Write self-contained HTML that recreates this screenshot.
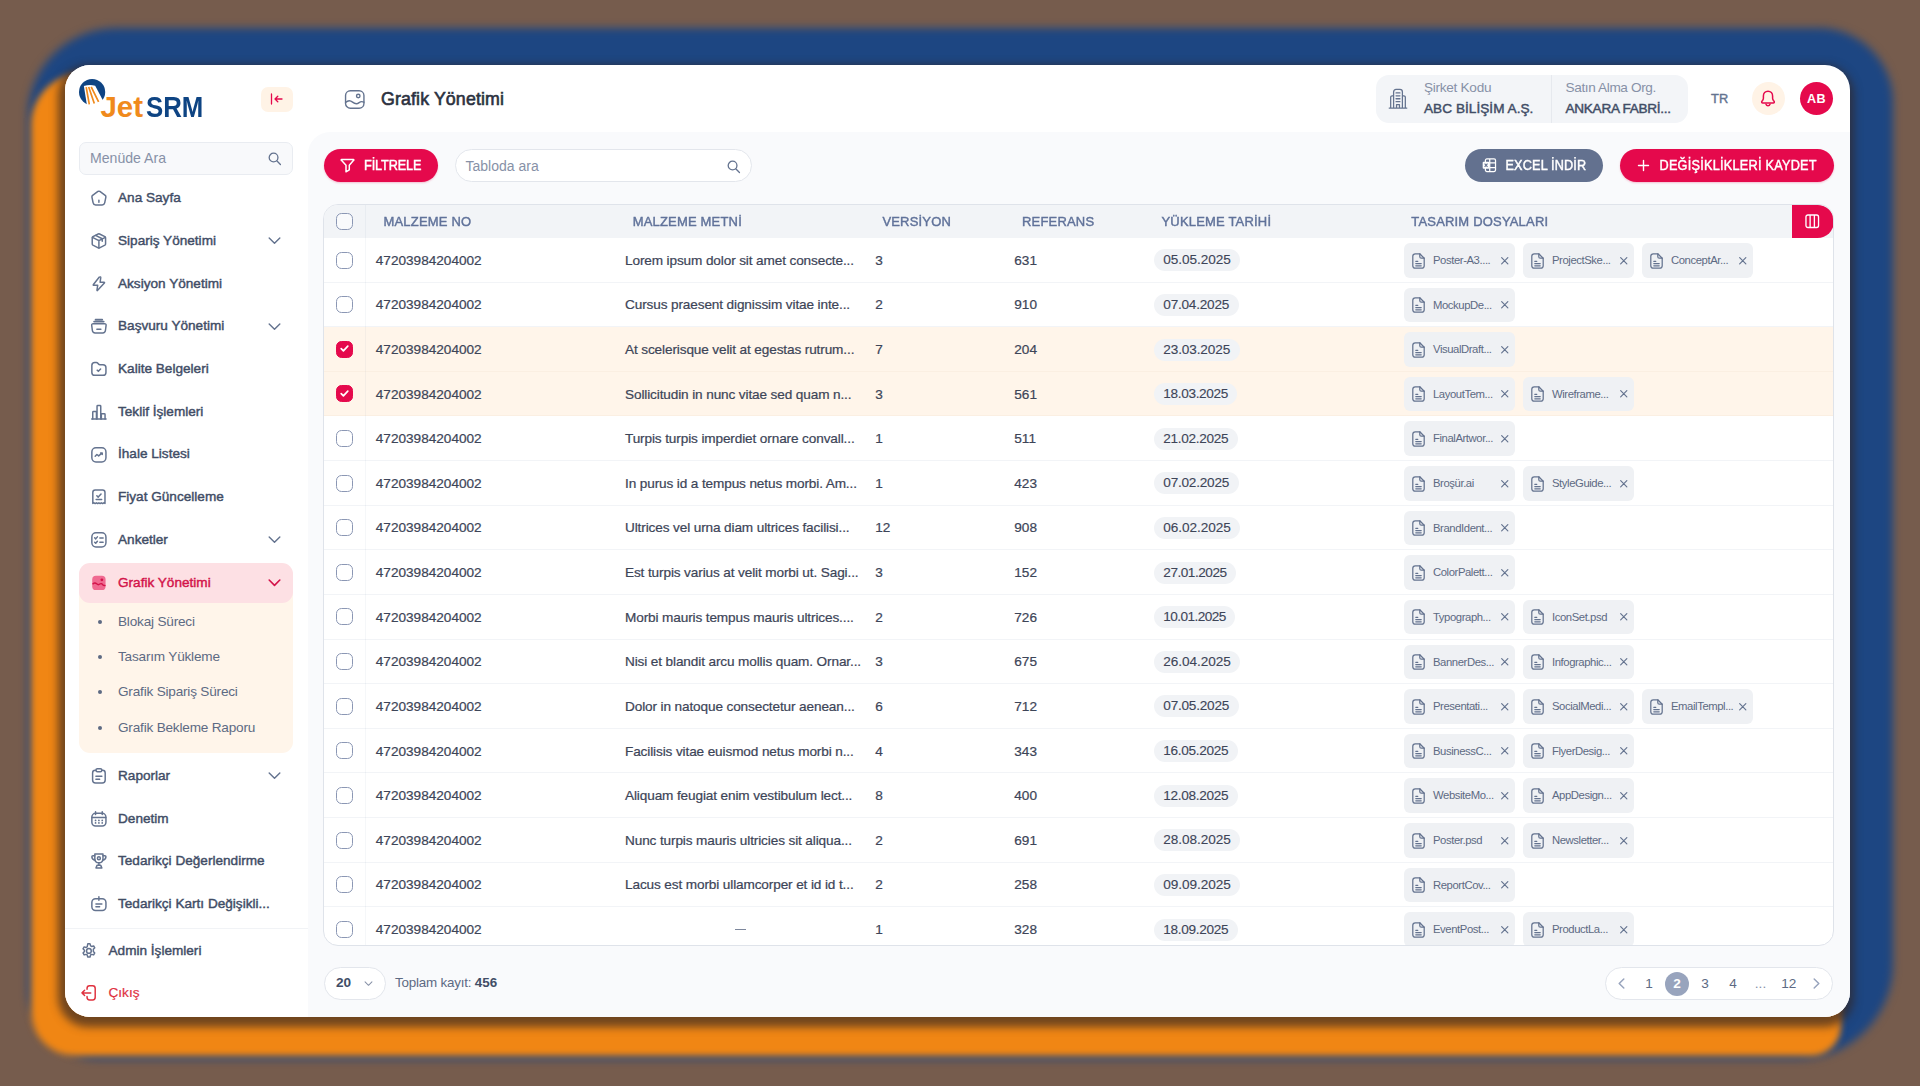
<!DOCTYPE html>
<html lang="tr"><head><meta charset="utf-8"><title>JetSRM - Grafik Yönetimi</title>
<style>
*{box-sizing:border-box;margin:0;padding:0}
html,body{width:1920px;height:1086px;overflow:hidden}
body{background:#765c4d;font-family:"Liberation Sans",sans-serif;position:relative;color:#3f4b63}
.abs{position:absolute}
#glowb{position:absolute;left:27.5px;top:27.5px;width:1865.5px;height:1031px;border-radius:88px 74px 95px 70px;background:#1d4682;filter:blur(4.5px)}
#glowo{position:absolute;left:31px;top:73px;width:1809.5px;height:982.5px;border-radius:52px 40px 30px 44px;background:#f08614;filter:blur(3px)}
#card{position:absolute;left:65px;top:65px;width:1785px;height:952px;border-radius:25px;background:#fff;overflow:hidden;}
#cardsh{position:absolute;left:65px;top:65px;width:1785px;height:952px;border-radius:25px;box-shadow:-1.5px 5px 8px 5px rgba(52,38,36,.68)}
#main{position:absolute;left:243px;top:67px;width:1542px;height:885px;background:#f9fafc;border-top-left-radius:22px}
svg{display:block;overflow:visible}
.mi{position:absolute;left:26px;height:16px;width:200px}
.mi svg{position:absolute;left:-1.3px;top:-.9px;width:17.8px;height:17.8px}
.mi span{position:absolute;left:27px;top:0;line-height:16px;font-size:13.6px;font-weight:400;color:#414d66;white-space:nowrap;letter-spacing:0;-webkit-text-stroke:.42px #414d66}
.mi .chev{left:175.1px;top:-.7px;width:17px;height:17px}
.sub{position:absolute;left:53px;font-size:13.6px;line-height:16px;color:#5d6a83;white-space:nowrap;letter-spacing:-.2px}
.sub i{position:absolute;left:-20.5px;top:6px;width:4px;height:4px;border-radius:50%;background:#5d6a83}
.th{position:absolute;top:9px;font-size:13px;font-weight:400;letter-spacing:.18px;color:#60729a;-webkit-text-stroke:.42px #60729a;line-height:16px;white-space:nowrap;transform:scaleY(1.05);transform-origin:0 62%}
.row{position:absolute;left:0;width:1509px;height:44.62px;border-bottom:1px solid #f2f4f7}
.row.sel{background:#fff5ea;border-bottom-color:#fbefe2}
.cb{position:absolute;left:12.4px;width:17px;height:17px;border:1.6px solid #8b97b4;border-radius:5.5px;background:#fff}
.cb.on{background:#e5094c;border-color:#e5094c}
.c{position:absolute;font-size:13.6px;line-height:16px;color:#3d4558;white-space:nowrap;top:14.7px;-webkit-text-stroke:.22px #3d4558}
.c.t{letter-spacing:-.12px}
.date{position:absolute;left:830px;top:11.3px;height:22px;border-radius:11px;background:#f1f3f6;padding:3px 0 0 9.3px;overflow:hidden;font-size:13.6px;line-height:16px;color:#3d4558;white-space:nowrap;-webkit-text-stroke:.12px #3d4558}
.chip{position:absolute;top:5px;width:111px;height:34.5px;border-radius:6px;background:#eff1f4}
.chip svg.f{position:absolute;left:8px;top:9.5px;width:13px;height:16px}
.chip span{position:absolute;left:29px;top:10px;font-size:11.3px;line-height:14px;color:#5d6a83;white-space:nowrap;letter-spacing:-.42px}
.chip svg.x{position:absolute;left:96.5px;top:13.5px;width:7.5px;height:7.5px}
.pg{position:absolute;top:7px;font-size:13.6px;line-height:18px;color:#5d6a83;text-align:center;width:24px}
</style></head>
<body>
<div id="glowb"></div>
<div id="glowo"></div>
<div id="cardsh"></div>
<div id="card">
<div id="side" class="abs" style="left:0;top:0;width:243px;height:952px;background:#fff">

<svg class="abs" style="left:12px;top:12px;width:30px;height:30px" viewBox="0 0 30 30" stroke="none">
 <circle cx="15.100" cy="15.100" r="13.100" fill="#0e4483"/>
 <path d="M6.900 9Q12.500 7.300 18.200 8.700L26.500 24.500 22 30H10.200Z" fill="#fff"/>
 <path d="M9.200 10.200 12.300 27.300M11.700 10 17.300 26.600M14.200 9.800 21.600 24.800" stroke="#f08a1c" stroke-width="1.700" fill="none"/>
</svg>
<div class="abs" style="left:35.400px;top:25px;font-size:29.500px;line-height:34px;font-weight:700;color:#f08a1c;white-space:nowrap">Jet</div>
<div class="abs" style="left:81.300px;top:25px;font-size:29.500px;line-height:34px;font-weight:700;color:#0e4483;white-space:nowrap;transform:scaleX(.875);transform-origin:0 0">SRM</div>
<div class="abs" style="left:196px;top:22px;width:31.500px;height:24.500px;border-radius:7px;background:#fff3e6"></div>
<svg class="abs" style="left:205px;top:28px;width:13px;height:12px" viewBox="0 0 13 12" fill="none" stroke="#e5094c" stroke-width="1.300" stroke-linecap="round" stroke-linejoin="round"><path d="M1.500 1v10M12 6H5M7.800 3.200 5 6l2.800 2.800"/></svg>

<div class="abs" style="left:14px;top:77px;width:214px;height:32.500px;border:1px solid #e9ecf1;border-radius:7px;background:#f8f9fb"></div>
<div class="abs" style="left:25px;top:85px;font-size:14.100px;line-height:16px;color:#8791a7;white-space:nowrap">Menüde Ara</div>
<svg class="" style="position:absolute;left:201.500px;top:85.500px;width:15px;height:15px" viewBox="0 0 24 24" fill="none" stroke="#64738f" stroke-width="2.100" stroke-linecap="round" stroke-linejoin="round"><circle cx="10.500" cy="10.500" r="7"/><path d="M16 16l5.500 5.500"/></svg>
<div class="mi" style="top:125.0px"><svg class="" style="" viewBox="0 0 24 24" fill="none" stroke="#64738f" stroke-width="2" stroke-linecap="round" stroke-linejoin="round"><path d="M13.300 3.300Q12 2.500 10.700 3.300L3.500 8.500Q2.300 9.400 2.600 10.900L4.200 18.700Q4.800 21.500 7.600 21.500H16.400Q19.200 21.500 19.800 18.700L21.400 10.900Q21.700 9.400 20.500 8.500Z"/><path d="M12 15v3"/></svg><span>Ana Sayfa</span></div>
<div class="mi" style="top:168.0px"><svg class="" style="" viewBox="0 0 24 24" fill="none" stroke="#64738f" stroke-width="2" stroke-linecap="round" stroke-linejoin="round"><path d="M12.900 2.700Q12 2.300 11.100 2.700L3.900 6.300Q3 6.800 3 7.800V16.200Q3 17.200 3.900 17.700L11.100 21.300Q12 21.700 12.900 21.300L20.100 17.700Q21 17.200 21 16.200V7.800Q21 6.800 20.100 6.300Z"/><path d="M3.300 7.200 12 11.600 20.700 7.200M12 11.600V21.500M7.500 4.600 16.500 9.100V12.500"/></svg><span>Sipariş Yönetimi</span><svg class="chev" style="" viewBox="0 0 24 24" fill="none" stroke="#64738f" stroke-width="2" stroke-linecap="round" stroke-linejoin="round"><path d="M4.500 8.500 12 16l7.500-7.500"/></svg></div>
<div class="mi" style="top:210.5px"><svg class="" style="" viewBox="0 0 24 24" fill="none" stroke="#64738f" stroke-width="2" stroke-linecap="round" stroke-linejoin="round"><path d="M12.600 2.800 4.600 12.800Q3.900 13.800 5.100 13.800H10.400L9.400 20.300Q9.300 21.700 10.300 20.700L19.400 10.900Q20.100 9.900 18.900 9.900H13.600L14.500 3.600Q14.600 2.100 12.600 2.800Z"/></svg><span>Aksiyon Yönetimi</span></div>
<div class="mi" style="top:253.3px"><svg class="" style="" viewBox="0 0 24 24" fill="none" stroke="#64738f" stroke-width="2" stroke-linecap="round" stroke-linejoin="round"><path d="M4.400 9H19.600Q22 9 21.700 11.400L20.800 18.200Q20.400 21.500 17.100 21.500H6.900Q3.600 21.500 3.200 18.200L2.300 11.400Q2 9 4.400 9Z"/><path d="M5.500 6.100h13M7.500 3.400h9" stroke-width="2.400"/><path d="M9.300 16.600h5.400"/></svg><span>Başvuru Yönetimi</span><svg class="chev" style="" viewBox="0 0 24 24" fill="none" stroke="#64738f" stroke-width="2" stroke-linecap="round" stroke-linejoin="round"><path d="M4.500 8.500 12 16l7.500-7.500"/></svg></div>
<div class="mi" style="top:296.0px"><svg class="" style="" viewBox="0 0 24 24" fill="none" stroke="#64738f" stroke-width="2" stroke-linecap="round" stroke-linejoin="round"><path d="M2.500 7.300Q2.500 3.300 6.500 3.300H8.600Q9.800 3.300 10.600 4.300L11.400 5.300Q12.200 6.300 13.400 6.300H17.500Q21.500 6.300 21.500 10.300V16.700Q21.500 20.700 17.500 20.700H6.500Q2.500 20.700 2.500 16.700Z"/><path d="M9.700 13.700l1.600 1.600 3-3.200"/></svg><span>Kalite Belgeleri</span></div>
<div class="mi" style="top:338.7px"><svg class="" style="" viewBox="0 0 24 24" fill="none" stroke="#64738f" stroke-width="2" stroke-linecap="round" stroke-linejoin="round"><path d="M2.300 21.500h19.400"/><path d="M3.700 21.500V12.500Q3.700 11.500 4.700 11.500H7.700Q8.700 11.500 8.700 12.500V21.500M9.500 21.500V4.500Q9.500 3.500 10.500 3.500H13.500Q14.500 3.500 14.500 4.500V21.500M15.300 21.500V15.500Q15.300 14.500 16.300 14.500H19.300Q20.300 14.500 20.300 15.500V21.500"/></svg><span>Teklif İşlemleri</span></div>
<div class="mi" style="top:381.4px"><svg class="" style="" viewBox="0 0 24 24" fill="none" stroke="#64738f" stroke-width="2" stroke-linecap="round" stroke-linejoin="round"><rect x="2.500" y="2.500" width="19" height="19" rx="5.500"/><path d="M7 13.800l2.300-2.300 2.400 1.800 4.300-3.600M14.300 9.400h2.200v2.200"/></svg><span>İhale Listesi</span></div>
<div class="mi" style="top:424.2px"><svg class="" style="" viewBox="0 0 24 24" fill="none" stroke="#64738f" stroke-width="2" stroke-linecap="round" stroke-linejoin="round"><path d="M3.800 6Q3.800 2.800 7 2.800H17Q20.200 2.800 20.200 6V20.800L18.600 20 17 21 15.300 20 13.700 21 12 20 10.300 21 8.700 20 7 21 5.400 20 3.800 20.800Z"/><path d="M9.200 10.400l1.900 1.900 3.800-4.200M8.300 15.600h7.400"/></svg><span>Fiyat Güncelleme</span></div>
<div class="mi" style="top:467.0px"><svg class="" style="" viewBox="0 0 24 24" fill="none" stroke="#64738f" stroke-width="2" stroke-linecap="round" stroke-linejoin="round"><rect x="2.500" y="2.500" width="19" height="19" rx="5.500"/><path d="M6.300 9.200l1.400 1.400 2.300-2.700M6.300 15.200l1.400 1.400 2.300-2.700M13.300 9.300h4.400M13.300 15.300h4.400"/></svg><span>Anketler</span><svg class="chev" style="" viewBox="0 0 24 24" fill="none" stroke="#64738f" stroke-width="2" stroke-linecap="round" stroke-linejoin="round"><path d="M4.500 8.500 12 16l7.500-7.500"/></svg></div>
<div class="abs" style="left:14px;top:510px;width:214px;height:178px;border-radius:11px;background:#fff5ea"></div>
<div class="abs" style="left:14px;top:498px;width:214px;height:39.500px;border-radius:11px;background:#fde0e4"></div>
<div class="mi" style="top:510px">
<svg viewBox="0 0 24 24" stroke="none"><rect x="3" y="2.300" width="18" height="19.400" rx="5" fill="#e5094c" opacity=".55"/><path d="M4 13.300c1.700-1.600 3.400-1.600 5 0s3 1.400 4.300.3 2.600-.7 3.600.5 2 1.800 3.300 1.400" fill="none" stroke="#d3144a" stroke-width="1.900" stroke-linecap="round"/><circle cx="16" cy="7.800" r="1.900" fill="#d3144a"/></svg>
<span style="color:#d3144a;-webkit-text-stroke-color:#d3144a">Grafik Yönetimi</span><svg class="chev" style="" viewBox="0 0 24 24" fill="none" stroke="#d3144a" stroke-width="2.300" stroke-linecap="round" stroke-linejoin="round"><path d="M4.500 8.500 12 16l7.500-7.500"/></svg></div>
<div class="sub" style="top:548.7px"><i></i>Blokaj Süreci</div>
<div class="sub" style="top:584.0px"><i></i>Tasarım Yükleme</div>
<div class="sub" style="top:619.4px"><i></i>Grafik Sipariş Süreci</div>
<div class="sub" style="top:654.7px"><i></i>Grafik Bekleme Raporu</div>
<div class="mi" style="top:703.0px"><svg class="" style="" viewBox="0 0 24 24" fill="none" stroke="#64738f" stroke-width="2" stroke-linecap="round" stroke-linejoin="round"><path d="M8 4.500H7Q3.500 4.500 3.500 8V17.500Q3.500 21.500 7.500 21.500H16.500Q20.500 21.500 20.500 17.500V8Q20.500 4.500 17 4.500H16"/><rect x="8" y="2.500" width="8" height="4" rx="2"/><path d="M8 12.500h8M8 16.500h5"/></svg><span>Raporlar</span><svg class="chev" style="" viewBox="0 0 24 24" fill="none" stroke="#64738f" stroke-width="2" stroke-linecap="round" stroke-linejoin="round"><path d="M4.500 8.500 12 16l7.500-7.500"/></svg></div>
<div class="mi" style="top:745.6px"><svg class="" style="" viewBox="0 0 24 24" fill="none" stroke="#64738f" stroke-width="2" stroke-linecap="round" stroke-linejoin="round"><rect x="2.500" y="4.500" width="19" height="17" rx="5"/><path d="M7.500 2.500v3.500M16.500 2.500v3.500M2.800 10h18.400"/><path d="M7.500 14h.01M12 14h.01M16.500 14h.01M7.500 17.500h.01M12 17.500h.01M16.500 17.500h.01" stroke-width="2.400"/></svg><span>Denetim</span></div>
<div class="mi" style="top:788.3px"><svg class="" style="" viewBox="0 0 24 24" fill="none" stroke="#64738f" stroke-width="2" stroke-linecap="round" stroke-linejoin="round"><path d="M6.500 2.800H17.500V9Q17.500 14.500 12 14.500Q6.500 14.500 6.500 9Z"/><path d="M6.500 5H4Q2.500 5 2.500 6.500Q2.500 10.500 7 11M17.500 5H20Q21.500 5 21.500 6.500Q21.500 10.500 17 11M12 14.500V18M8 21.500H16L14.500 18H9.500Z"/><circle cx="12" cy="8.300" r="2"/></svg><span>Tedarikçi Değerlendirme</span></div>
<div class="mi" style="top:831.0px"><svg class="" style="" viewBox="0 0 24 24" fill="none" stroke="#64738f" stroke-width="2" stroke-linecap="round" stroke-linejoin="round"><rect x="2.500" y="5" width="19" height="16" rx="5"/><path d="M12 2.500V7M8 12h8M8 16h5"/></svg><span>Tedarikçi Kartı Değişikli...</span></div>
<div class="abs" style="left:0;top:862.500px;width:243px;height:1px;background:#f1f3f6"></div>
<div class="mi" style="left:16.500px;top:877.5px"><svg class="" style="" viewBox="0 0 24 24" fill="none" stroke="#64738f" stroke-width="2" stroke-linecap="round" stroke-linejoin="round"><circle cx="12" cy="12" r="3.200"/><path d="M10.500 2.500h3l.8 2.700 1.400.8 2.700-.7 1.500 2.600-1.900 2V12.800l1.900 2-1.500 2.600-2.700-.7-1.400.8-.8 2.700h-3l-.8-2.700-1.400-.8-2.700.7-1.500-2.600 1.900-2V11.200l-1.900-2 1.500-2.600 2.700.7 1.400-.8z"/></svg><span>Admin İşlemleri</span></div>
<div class="mi" style="left:16.500px;top:920.0px"><svg class="" style="" viewBox="0 0 24 24" fill="none" stroke="#e0323f" stroke-width="2" stroke-linecap="round" stroke-linejoin="round"><path d="M9.500 7V6Q9.500 2.500 13 2.500H17Q20.500 2.500 20.500 6V18Q20.500 21.500 17 21.500H13Q9.500 21.500 9.500 18V17"/><path d="M14.500 12H2.800M6.200 8.500 2.700 12 6.200 15.500"/></svg><span style="color:#e0323f;-webkit-text-stroke:.2px #e0323f">Çıkış</span></div>
</div>
<svg class="abs" style="left:278.500px;top:23.500px;width:21.500px;height:21px" viewBox="0 0 24 24" fill="none" stroke="#64738f" stroke-width="1.600" stroke-linecap="round" stroke-linejoin="round"><rect x="1.500" y="2" width="21" height="20" rx="5.500"/><circle cx="16" cy="8" r="2"/><path d="M1.500 15.500c2.700-2.600 5.400-2.600 8-.5s5.300 2.300 7.500.6 3.500-1.500 5.500-.5"/></svg>
<div class="abs" style="left:316px;top:22px;font-size:17.800px;line-height:24px;font-weight:400;color:#2b3140;white-space:nowrap;letter-spacing:.12px;-webkit-text-stroke:.6px #2b3140">Grafik Yönetimi</div>
<div class="abs" style="left:1311px;top:10px;width:312px;height:47.500px;border-radius:13px;background:#f3f5f8"></div>
<div class="abs" style="left:1486px;top:10px;width:1px;height:47.500px;background:#e6e9ee"></div>
<svg class="abs" style="left:1323px;top:22.500px;width:20px;height:21.500px" viewBox="0 0 20 22" fill="none" stroke="#64738f" stroke-width="1.300" stroke-linecap="round" stroke-linejoin="round"><path d="M1 20.500h18M5.500 20.500V4c0-1.400 1-2.500 2.500-2.500h4c1.500 0 2.500 1.100 2.500 2.500v16.500M2.500 20.500V9.500c0-.8.700-1.500 1.500-1.500h1.500M17.500 20.500V9.500c0-.8-.7-1.500-1.500-1.500h-1.500M8 5h4M8 8h4M8 11h4M8 14h4M8.500 20.500v-3.500h3v3.500"/></svg>
<div class="abs" style="left:1359px;top:13.800px;font-size:13.600px;line-height:17px;color:#8791a7;white-space:nowrap;letter-spacing:-.28px">Şirket Kodu</div>
<div class="abs" style="left:1359px;top:35px;font-size:13.600px;line-height:17px;font-weight:400;color:#414d66;white-space:nowrap;letter-spacing:.04px;-webkit-text-stroke:.45px #414d66">ABC BİLİŞİM A.Ş.</div>
<div class="abs" style="left:1500.500px;top:13.800px;font-size:13.600px;line-height:17px;color:#8791a7;white-space:nowrap;letter-spacing:-.37px">Satın Alma Org.</div>
<div class="abs" style="left:1500.500px;top:35px;font-size:13.600px;line-height:17px;font-weight:400;color:#414d66;white-space:nowrap;letter-spacing:-.28px;-webkit-text-stroke:.45px #414d66">ANKARA FABRİ...</div>
<div class="abs" style="left:1646px;top:25.500px;font-size:12.800px;line-height:16px;font-weight:400;color:#64738f;-webkit-text-stroke:.4px #64738f;white-space:nowrap;letter-spacing:.3px">TR</div>
<div class="abs" style="left:1686.500px;top:17px;width:33px;height:33px;border-radius:50%;background:#fff3e6"></div>
<svg class="abs" style="left:1695px;top:25px;width:16px;height:17px" viewBox="0 0 16 17" fill="none" stroke="#e5094c" stroke-width="1.500" stroke-linecap="round" stroke-linejoin="round"><path d="M8 1.200c-2.800 0-4.600 2.100-4.600 4.800v2.300c0 .8-.3 1.500-.8 2.100l-.7.800c-.6.700-.1 1.800.8 1.800h10.600c.9 0 1.400-1.100.8-1.800l-.7-.8c-.5-.6-.8-1.300-.8-2.100V6c0-2.700-1.800-4.800-4.600-4.800z"/><path d="M6 14.300c.3.900 1.100 1.500 2 1.500s1.700-.6 2-1.500"/></svg>
<div class="abs" style="left:1735px;top:17px;width:33px;height:33px;border-radius:50%;background:#e5094c;color:#fff;font-size:12.600px;font-weight:700;line-height:34.500px;text-align:center;letter-spacing:.5px">AB</div>
<div id="main">
<div class="abs" style="left:15.500px;top:17px;width:114px;height:33px;border-radius:17px;background:#e5094c;box-shadow:0 1px 2px rgba(229,9,76,.25)"></div>
<svg class="abs" style="left:32px;top:26px;width:15px;height:15px" viewBox="0 0 15 15" fill="none" stroke="#fff" stroke-width="1.500" stroke-linecap="round" stroke-linejoin="round"><path d="M1.500 1.500h12c.3 0 .5.400.3.600L9.300 7.200v4.600l-3.300 2V7.200L1.200 2.100c-.2-.2 0-.6.300-.6z"/></svg>
<div class="abs" style="left:56px;top:25.500px;font-size:12.700px;line-height:16px;font-weight:400;color:#fff;-webkit-text-stroke:.42px #fff;letter-spacing:-.12px;white-space:nowrap;transform:scaleY(1.09);transform-origin:0 62%">FİLTRELE</div>
<div class="abs" style="left:147px;top:17px;width:297px;height:33px;border-radius:17px;background:#fff;border:1px solid #e3e6ec"></div>
<div class="abs" style="left:157.500px;top:25.500px;font-size:14px;line-height:16px;color:#8791a7;white-space:nowrap;letter-spacing:0">Tabloda ara</div>
<svg class="" style="position:absolute;left:417.500px;top:26.500px;width:15px;height:15px" viewBox="0 0 24 24" fill="none" stroke="#64738f" stroke-width="2.100" stroke-linecap="round" stroke-linejoin="round"><circle cx="10.500" cy="10.500" r="7"/><path d="M16 16l5.500 5.500"/></svg>
<div class="abs" style="left:1157px;top:17px;width:138px;height:33px;border-radius:17px;background:#63718f"></div>
<svg class="abs" style="left:1173.500px;top:26px;width:14.500px;height:14.500px" viewBox="0 0 15 15" fill="none" stroke="#fff" stroke-width="1.300" stroke-linejoin="round"><rect x="3.500" y="1" width="10.500" height="13" rx="1.500"/><path d="M8 1v13M8 5h6M8 10h6"/><rect x=".7" y="4" width="7" height="7" rx="1" fill="#fff" stroke="none"/><path d="M2.700 5.800l3 3.400M5.700 5.800l-3 3.400" stroke="#63718f" stroke-width="1.100"/></svg>
<div class="abs" style="left:1197.500px;top:25.500px;font-size:12.700px;line-height:16px;font-weight:400;color:#fff;-webkit-text-stroke:.42px #fff;letter-spacing:.15px;white-space:nowrap;transform:scaleY(1.09);transform-origin:0 62%">EXCEL İNDİR</div>
<div class="abs" style="left:1311.500px;top:17px;width:214px;height:33px;border-radius:17px;background:#e5094c;box-shadow:0 1px 2px rgba(229,9,76,.25)"></div>
<svg class="abs" style="left:1329.500px;top:28px;width:11px;height:11px" viewBox="0 0 11 11" fill="none" stroke="#fff" stroke-width="1.400" stroke-linecap="round"><path d="M5.500 .5v10M.5 5.500h10"/></svg>
<div class="abs" style="left:1351.500px;top:25.500px;font-size:12.700px;line-height:16px;font-weight:400;color:#fff;-webkit-text-stroke:.42px #fff;letter-spacing:.25px;white-space:nowrap;transform:scaleY(1.09);transform-origin:0 62%">DEĞİŞİKLİKLERİ KAYDET</div>
<div id="tbl" class="abs" style="left:15px;top:71.500px;width:1511px;height:742px;border:1px solid #dfe3ea;border-radius:15px;background:#fff;overflow:hidden">
<div class="abs" style="left:0;top:0;width:1509px;height:33.500px;background:#f2f4f7"></div>
<div class="cb" style="top:8.500px;background:#f9fafc"></div>
<div class="th" style="left:59.5px">MALZEME NO</div>
<div class="th" style="left:308.7px">MALZEME METNİ</div>
<div class="th" style="left:558.4px">VERSİYON</div>
<div class="th" style="left:698px">REFERANS</div>
<div class="th" style="left:837.5px">YÜKLEME TARİHİ</div>
<div class="th" style="left:1087.3px">TASARIM DOSYALARI</div>
<div class="row" style="top:33.50px"><div class="cb" style="top:13.500px"></div><div class="c" style="left:51.800px">47203984204002</div><div class="c t" style="left:301px">Lorem ipsum dolor sit amet consecte...</div><div class="c" style="left:551.300px">3</div><div class="c" style="left:690.300px">631</div><div class="date" style="width:86.2px;letter-spacing:-0.05px">05.05.2025</div><div class="chip" style="left:1080px"><svg class="f" viewBox="0 0 13 16" fill="none" stroke="#64738f" stroke-width="1.250" stroke-linecap="round" stroke-linejoin="round"><path d="M7.800 .8H3.300C1.900 .8 .8 1.900 .8 3.300v9.400c0 1.400 1.100 2.500 2.500 2.500h6.400c1.400 0 2.500-1.100 2.500-2.500V5.200L7.800 .8z"/><path d="M7.800 .8v2.900c0 .8.700 1.500 1.500 1.500h2.900M3.800 8.300h2M3.800 10.600h5.400M3.800 12.800h5.400"/></svg><span>Poster-A3....</span><svg class="x" viewBox="0 0 8 8" fill="none" stroke="#64738f" stroke-width="1.250" stroke-linecap="round"><path d="M.7 .7l6.600 6.600M7.300 .7.700 7.300"/></svg></div><div class="chip" style="left:1199px"><svg class="f" viewBox="0 0 13 16" fill="none" stroke="#64738f" stroke-width="1.250" stroke-linecap="round" stroke-linejoin="round"><path d="M7.800 .8H3.300C1.900 .8 .8 1.900 .8 3.300v9.400c0 1.400 1.100 2.500 2.500 2.500h6.400c1.400 0 2.500-1.100 2.500-2.500V5.200L7.800 .8z"/><path d="M7.800 .8v2.900c0 .8.700 1.500 1.500 1.500h2.900M3.800 8.300h2M3.800 10.600h5.400M3.800 12.800h5.400"/></svg><span>ProjectSke...</span><svg class="x" viewBox="0 0 8 8" fill="none" stroke="#64738f" stroke-width="1.250" stroke-linecap="round"><path d="M.7 .7l6.600 6.600M7.300 .7.700 7.300"/></svg></div><div class="chip" style="left:1318px"><svg class="f" viewBox="0 0 13 16" fill="none" stroke="#64738f" stroke-width="1.250" stroke-linecap="round" stroke-linejoin="round"><path d="M7.800 .8H3.300C1.900 .8 .8 1.900 .8 3.300v9.400c0 1.400 1.100 2.500 2.500 2.500h6.400c1.400 0 2.500-1.100 2.500-2.500V5.200L7.800 .8z"/><path d="M7.800 .8v2.900c0 .8.700 1.500 1.500 1.500h2.900M3.800 8.300h2M3.800 10.600h5.400M3.800 12.800h5.400"/></svg><span>ConceptAr...</span><svg class="x" viewBox="0 0 8 8" fill="none" stroke="#64738f" stroke-width="1.250" stroke-linecap="round"><path d="M.7 .7l6.600 6.600M7.300 .7.700 7.300"/></svg></div></div>
<div class="row" style="top:78.12px"><div class="cb" style="top:13.500px"></div><div class="c" style="left:51.800px">47203984204002</div><div class="c t" style="left:301px">Cursus praesent dignissim vitae inte...</div><div class="c" style="left:551.300px">2</div><div class="c" style="left:690.300px">910</div><div class="date" style="width:84.5px;letter-spacing:-0.22px">07.04.2025</div><div class="chip" style="left:1080px"><svg class="f" viewBox="0 0 13 16" fill="none" stroke="#64738f" stroke-width="1.250" stroke-linecap="round" stroke-linejoin="round"><path d="M7.800 .8H3.300C1.900 .8 .8 1.900 .8 3.300v9.400c0 1.400 1.100 2.500 2.500 2.500h6.400c1.400 0 2.500-1.100 2.500-2.500V5.200L7.800 .8z"/><path d="M7.800 .8v2.900c0 .8.700 1.500 1.500 1.500h2.900M3.800 8.300h2M3.800 10.600h5.400M3.800 12.800h5.400"/></svg><span>MockupDe...</span><svg class="x" viewBox="0 0 8 8" fill="none" stroke="#64738f" stroke-width="1.250" stroke-linecap="round"><path d="M.7 .7l6.600 6.600M7.300 .7.700 7.300"/></svg></div></div>
<div class="row sel" style="top:122.74px"><div class="cb on" style="top:13.500px"><svg style="position:absolute;left:2.600px;top:3.400px;width:9px;height:7px" viewBox="0 0 9 7" fill="none" stroke="#fff" stroke-width="1.700" stroke-linecap="round" stroke-linejoin="round"><path d="M1.200 3.600l2.200 2.200 4.400-4.600"/></svg></div><div class="c" style="left:51.800px">47203984204002</div><div class="c t" style="left:301px">At scelerisque velit at egestas rutrum...</div><div class="c" style="left:551.300px">7</div><div class="c" style="left:690.300px">204</div><div class="date" style="width:85.5px;letter-spacing:-0.12px">23.03.2025</div><div class="chip" style="left:1080px"><svg class="f" viewBox="0 0 13 16" fill="none" stroke="#64738f" stroke-width="1.250" stroke-linecap="round" stroke-linejoin="round"><path d="M7.800 .8H3.300C1.900 .8 .8 1.900 .8 3.300v9.400c0 1.400 1.100 2.500 2.500 2.500h6.400c1.400 0 2.500-1.100 2.500-2.500V5.200L7.800 .8z"/><path d="M7.800 .8v2.900c0 .8.700 1.500 1.500 1.500h2.900M3.800 8.300h2M3.800 10.600h5.400M3.800 12.800h5.400"/></svg><span>VisualDraft...</span><svg class="x" viewBox="0 0 8 8" fill="none" stroke="#64738f" stroke-width="1.250" stroke-linecap="round"><path d="M.7 .7l6.600 6.600M7.300 .7.700 7.300"/></svg></div></div>
<div class="row sel" style="top:167.36px"><div class="cb on" style="top:13.500px"><svg style="position:absolute;left:2.600px;top:3.400px;width:9px;height:7px" viewBox="0 0 9 7" fill="none" stroke="#fff" stroke-width="1.700" stroke-linecap="round" stroke-linejoin="round"><path d="M1.200 3.600l2.200 2.200 4.400-4.600"/></svg></div><div class="c" style="left:51.800px">47203984204002</div><div class="c t" style="left:301px">Sollicitudin in nunc vitae sed quam n...</div><div class="c" style="left:551.300px">3</div><div class="c" style="left:690.300px">561</div><div class="date" style="width:83.4px;letter-spacing:-0.33px">18.03.2025</div><div class="chip" style="left:1080px"><svg class="f" viewBox="0 0 13 16" fill="none" stroke="#64738f" stroke-width="1.250" stroke-linecap="round" stroke-linejoin="round"><path d="M7.800 .8H3.300C1.900 .8 .8 1.900 .8 3.300v9.400c0 1.400 1.100 2.500 2.500 2.500h6.400c1.400 0 2.500-1.100 2.500-2.500V5.200L7.800 .8z"/><path d="M7.800 .8v2.900c0 .8.700 1.500 1.500 1.500h2.900M3.800 8.300h2M3.800 10.600h5.400M3.800 12.800h5.400"/></svg><span>LayoutTem...</span><svg class="x" viewBox="0 0 8 8" fill="none" stroke="#64738f" stroke-width="1.250" stroke-linecap="round"><path d="M.7 .7l6.600 6.600M7.300 .7.700 7.300"/></svg></div><div class="chip" style="left:1199px"><svg class="f" viewBox="0 0 13 16" fill="none" stroke="#64738f" stroke-width="1.250" stroke-linecap="round" stroke-linejoin="round"><path d="M7.800 .8H3.300C1.900 .8 .8 1.900 .8 3.300v9.400c0 1.400 1.100 2.500 2.500 2.500h6.400c1.400 0 2.500-1.100 2.500-2.500V5.200L7.800 .8z"/><path d="M7.800 .8v2.900c0 .8.700 1.500 1.500 1.500h2.900M3.800 8.300h2M3.800 10.600h5.400M3.800 12.800h5.400"/></svg><span>Wireframe...</span><svg class="x" viewBox="0 0 8 8" fill="none" stroke="#64738f" stroke-width="1.250" stroke-linecap="round"><path d="M.7 .7l6.600 6.600M7.300 .7.700 7.300"/></svg></div></div>
<div class="row" style="top:211.98px"><div class="cb" style="top:13.500px"></div><div class="c" style="left:51.800px">47203984204002</div><div class="c t" style="left:301px">Turpis turpis imperdiet ornare convall...</div><div class="c" style="left:551.300px">1</div><div class="c" style="left:690.300px">511</div><div class="date" style="width:83.7px;letter-spacing:-0.30px">21.02.2025</div><div class="chip" style="left:1080px"><svg class="f" viewBox="0 0 13 16" fill="none" stroke="#64738f" stroke-width="1.250" stroke-linecap="round" stroke-linejoin="round"><path d="M7.800 .8H3.300C1.900 .8 .8 1.900 .8 3.300v9.400c0 1.400 1.100 2.500 2.500 2.500h6.400c1.400 0 2.500-1.100 2.500-2.500V5.200L7.800 .8z"/><path d="M7.800 .8v2.900c0 .8.700 1.500 1.500 1.500h2.900M3.800 8.300h2M3.800 10.600h5.400M3.800 12.800h5.400"/></svg><span>FinalArtwor...</span><svg class="x" viewBox="0 0 8 8" fill="none" stroke="#64738f" stroke-width="1.250" stroke-linecap="round"><path d="M.7 .7l6.600 6.600M7.300 .7.700 7.300"/></svg></div></div>
<div class="row" style="top:256.60px"><div class="cb" style="top:13.500px"></div><div class="c" style="left:51.800px">47203984204002</div><div class="c t" style="left:301px">In purus id a tempus netus morbi. Am...</div><div class="c" style="left:551.300px">1</div><div class="c" style="left:690.300px">423</div><div class="date" style="width:84.5px;letter-spacing:-0.22px">07.02.2025</div><div class="chip" style="left:1080px"><svg class="f" viewBox="0 0 13 16" fill="none" stroke="#64738f" stroke-width="1.250" stroke-linecap="round" stroke-linejoin="round"><path d="M7.800 .8H3.300C1.900 .8 .8 1.900 .8 3.300v9.400c0 1.400 1.100 2.500 2.500 2.500h6.400c1.400 0 2.500-1.100 2.500-2.500V5.200L7.800 .8z"/><path d="M7.800 .8v2.900c0 .8.700 1.500 1.500 1.500h2.900M3.800 8.300h2M3.800 10.600h5.400M3.800 12.800h5.400"/></svg><span>Broşür.ai</span><svg class="x" viewBox="0 0 8 8" fill="none" stroke="#64738f" stroke-width="1.250" stroke-linecap="round"><path d="M.7 .7l6.600 6.600M7.300 .7.700 7.300"/></svg></div><div class="chip" style="left:1199px"><svg class="f" viewBox="0 0 13 16" fill="none" stroke="#64738f" stroke-width="1.250" stroke-linecap="round" stroke-linejoin="round"><path d="M7.800 .8H3.300C1.900 .8 .8 1.900 .8 3.300v9.400c0 1.400 1.100 2.500 2.500 2.500h6.400c1.400 0 2.500-1.100 2.500-2.500V5.200L7.800 .8z"/><path d="M7.800 .8v2.900c0 .8.700 1.500 1.500 1.500h2.900M3.800 8.300h2M3.800 10.600h5.400M3.800 12.800h5.400"/></svg><span>StyleGuide...</span><svg class="x" viewBox="0 0 8 8" fill="none" stroke="#64738f" stroke-width="1.250" stroke-linecap="round"><path d="M.7 .7l6.600 6.600M7.300 .7.700 7.300"/></svg></div></div>
<div class="row" style="top:301.22px"><div class="cb" style="top:13.500px"></div><div class="c" style="left:51.800px">47203984204002</div><div class="c t" style="left:301px">Ultrices vel urna diam ultrices facilisi...</div><div class="c" style="left:551.300px">12</div><div class="c" style="left:690.300px">908</div><div class="date" style="width:86.2px;letter-spacing:-0.05px">06.02.2025</div><div class="chip" style="left:1080px"><svg class="f" viewBox="0 0 13 16" fill="none" stroke="#64738f" stroke-width="1.250" stroke-linecap="round" stroke-linejoin="round"><path d="M7.800 .8H3.300C1.900 .8 .8 1.900 .8 3.300v9.400c0 1.400 1.100 2.500 2.500 2.500h6.400c1.400 0 2.500-1.100 2.500-2.500V5.200L7.800 .8z"/><path d="M7.800 .8v2.900c0 .8.700 1.500 1.500 1.500h2.900M3.800 8.300h2M3.800 10.600h5.400M3.800 12.800h5.400"/></svg><span>BrandIdent...</span><svg class="x" viewBox="0 0 8 8" fill="none" stroke="#64738f" stroke-width="1.250" stroke-linecap="round"><path d="M.7 .7l6.600 6.600M7.300 .7.700 7.300"/></svg></div></div>
<div class="row" style="top:345.84px"><div class="cb" style="top:13.500px"></div><div class="c" style="left:51.800px">47203984204002</div><div class="c t" style="left:301px">Est turpis varius at velit morbi ut. Sagi...</div><div class="c" style="left:551.300px">3</div><div class="c" style="left:690.300px">152</div><div class="date" style="width:82.0px;letter-spacing:-0.47px">27.01.2025</div><div class="chip" style="left:1080px"><svg class="f" viewBox="0 0 13 16" fill="none" stroke="#64738f" stroke-width="1.250" stroke-linecap="round" stroke-linejoin="round"><path d="M7.800 .8H3.300C1.900 .8 .8 1.900 .8 3.300v9.400c0 1.400 1.100 2.500 2.500 2.500h6.400c1.400 0 2.500-1.100 2.500-2.500V5.200L7.800 .8z"/><path d="M7.800 .8v2.900c0 .8.700 1.500 1.500 1.500h2.900M3.800 8.300h2M3.800 10.600h5.400M3.800 12.800h5.400"/></svg><span>ColorPalett...</span><svg class="x" viewBox="0 0 8 8" fill="none" stroke="#64738f" stroke-width="1.250" stroke-linecap="round"><path d="M.7 .7l6.600 6.600M7.300 .7.700 7.300"/></svg></div></div>
<div class="row" style="top:390.46px"><div class="cb" style="top:13.500px"></div><div class="c" style="left:51.800px">47203984204002</div><div class="c t" style="left:301px">Morbi mauris tempus mauris ultrices....</div><div class="c" style="left:551.300px">2</div><div class="c" style="left:690.300px">726</div><div class="date" style="width:81.2px;letter-spacing:-0.55px">10.01.2025</div><div class="chip" style="left:1080px"><svg class="f" viewBox="0 0 13 16" fill="none" stroke="#64738f" stroke-width="1.250" stroke-linecap="round" stroke-linejoin="round"><path d="M7.800 .8H3.300C1.900 .8 .8 1.900 .8 3.300v9.400c0 1.400 1.100 2.500 2.500 2.500h6.400c1.400 0 2.500-1.100 2.500-2.500V5.200L7.800 .8z"/><path d="M7.800 .8v2.900c0 .8.700 1.500 1.500 1.500h2.900M3.800 8.300h2M3.800 10.600h5.400M3.800 12.800h5.400"/></svg><span>Typograph...</span><svg class="x" viewBox="0 0 8 8" fill="none" stroke="#64738f" stroke-width="1.250" stroke-linecap="round"><path d="M.7 .7l6.600 6.600M7.300 .7.700 7.300"/></svg></div><div class="chip" style="left:1199px"><svg class="f" viewBox="0 0 13 16" fill="none" stroke="#64738f" stroke-width="1.250" stroke-linecap="round" stroke-linejoin="round"><path d="M7.800 .8H3.300C1.900 .8 .8 1.900 .8 3.300v9.400c0 1.400 1.100 2.500 2.500 2.500h6.400c1.400 0 2.500-1.100 2.500-2.500V5.200L7.800 .8z"/><path d="M7.800 .8v2.900c0 .8.700 1.500 1.500 1.500h2.900M3.800 8.300h2M3.800 10.600h5.400M3.800 12.800h5.400"/></svg><span>IconSet.psd</span><svg class="x" viewBox="0 0 8 8" fill="none" stroke="#64738f" stroke-width="1.250" stroke-linecap="round"><path d="M.7 .7l6.600 6.600M7.300 .7.700 7.300"/></svg></div></div>
<div class="row" style="top:435.08px"><div class="cb" style="top:13.500px"></div><div class="c" style="left:51.800px">47203984204002</div><div class="c t" style="left:301px">Nisi et blandit arcu mollis quam. Ornar...</div><div class="c" style="left:551.300px">3</div><div class="c" style="left:690.300px">675</div><div class="date" style="width:86.2px;letter-spacing:-0.05px">26.04.2025</div><div class="chip" style="left:1080px"><svg class="f" viewBox="0 0 13 16" fill="none" stroke="#64738f" stroke-width="1.250" stroke-linecap="round" stroke-linejoin="round"><path d="M7.800 .8H3.300C1.900 .8 .8 1.900 .8 3.300v9.400c0 1.400 1.100 2.500 2.500 2.500h6.400c1.400 0 2.500-1.100 2.500-2.500V5.200L7.800 .8z"/><path d="M7.800 .8v2.900c0 .8.700 1.500 1.500 1.500h2.900M3.800 8.300h2M3.800 10.600h5.400M3.800 12.800h5.400"/></svg><span>BannerDes...</span><svg class="x" viewBox="0 0 8 8" fill="none" stroke="#64738f" stroke-width="1.250" stroke-linecap="round"><path d="M.7 .7l6.600 6.600M7.300 .7.700 7.300"/></svg></div><div class="chip" style="left:1199px"><svg class="f" viewBox="0 0 13 16" fill="none" stroke="#64738f" stroke-width="1.250" stroke-linecap="round" stroke-linejoin="round"><path d="M7.800 .8H3.300C1.900 .8 .8 1.900 .8 3.300v9.400c0 1.400 1.100 2.500 2.500 2.500h6.400c1.400 0 2.500-1.100 2.500-2.500V5.200L7.800 .8z"/><path d="M7.800 .8v2.900c0 .8.700 1.500 1.500 1.500h2.900M3.800 8.300h2M3.800 10.600h5.400M3.800 12.800h5.400"/></svg><span>Infographic...</span><svg class="x" viewBox="0 0 8 8" fill="none" stroke="#64738f" stroke-width="1.250" stroke-linecap="round"><path d="M.7 .7l6.600 6.600M7.300 .7.700 7.300"/></svg></div></div>
<div class="row" style="top:479.70px"><div class="cb" style="top:13.500px"></div><div class="c" style="left:51.800px">47203984204002</div><div class="c t" style="left:301px">Dolor in natoque consectetur aenean...</div><div class="c" style="left:551.300px">6</div><div class="c" style="left:690.300px">712</div><div class="date" style="width:84.5px;letter-spacing:-0.22px">07.05.2025</div><div class="chip" style="left:1080px"><svg class="f" viewBox="0 0 13 16" fill="none" stroke="#64738f" stroke-width="1.250" stroke-linecap="round" stroke-linejoin="round"><path d="M7.800 .8H3.300C1.900 .8 .8 1.900 .8 3.300v9.400c0 1.400 1.100 2.500 2.500 2.500h6.400c1.400 0 2.500-1.100 2.500-2.500V5.200L7.800 .8z"/><path d="M7.800 .8v2.900c0 .8.700 1.500 1.500 1.500h2.900M3.800 8.300h2M3.800 10.600h5.400M3.800 12.800h5.400"/></svg><span>Presentati...</span><svg class="x" viewBox="0 0 8 8" fill="none" stroke="#64738f" stroke-width="1.250" stroke-linecap="round"><path d="M.7 .7l6.600 6.600M7.300 .7.700 7.300"/></svg></div><div class="chip" style="left:1199px"><svg class="f" viewBox="0 0 13 16" fill="none" stroke="#64738f" stroke-width="1.250" stroke-linecap="round" stroke-linejoin="round"><path d="M7.800 .8H3.300C1.900 .8 .8 1.900 .8 3.300v9.400c0 1.400 1.100 2.500 2.500 2.500h6.400c1.400 0 2.500-1.100 2.500-2.500V5.200L7.800 .8z"/><path d="M7.800 .8v2.900c0 .8.700 1.500 1.500 1.500h2.900M3.800 8.300h2M3.800 10.600h5.400M3.800 12.800h5.400"/></svg><span>SocialMedi...</span><svg class="x" viewBox="0 0 8 8" fill="none" stroke="#64738f" stroke-width="1.250" stroke-linecap="round"><path d="M.7 .7l6.600 6.600M7.300 .7.700 7.300"/></svg></div><div class="chip" style="left:1318px"><svg class="f" viewBox="0 0 13 16" fill="none" stroke="#64738f" stroke-width="1.250" stroke-linecap="round" stroke-linejoin="round"><path d="M7.800 .8H3.300C1.900 .8 .8 1.900 .8 3.300v9.400c0 1.400 1.100 2.500 2.500 2.500h6.400c1.400 0 2.500-1.100 2.500-2.500V5.200L7.800 .8z"/><path d="M7.800 .8v2.900c0 .8.700 1.500 1.500 1.500h2.900M3.800 8.300h2M3.800 10.600h5.400M3.800 12.800h5.400"/></svg><span>EmailTempl...</span><svg class="x" viewBox="0 0 8 8" fill="none" stroke="#64738f" stroke-width="1.250" stroke-linecap="round"><path d="M.7 .7l6.600 6.600M7.300 .7.700 7.300"/></svg></div></div>
<div class="row" style="top:524.32px"><div class="cb" style="top:13.500px"></div><div class="c" style="left:51.800px">47203984204002</div><div class="c t" style="left:301px">Facilisis vitae euismod netus morbi n...</div><div class="c" style="left:551.300px">4</div><div class="c" style="left:690.300px">343</div><div class="date" style="width:83.7px;letter-spacing:-0.30px">16.05.2025</div><div class="chip" style="left:1080px"><svg class="f" viewBox="0 0 13 16" fill="none" stroke="#64738f" stroke-width="1.250" stroke-linecap="round" stroke-linejoin="round"><path d="M7.800 .8H3.300C1.900 .8 .8 1.900 .8 3.300v9.400c0 1.400 1.100 2.500 2.500 2.500h6.400c1.400 0 2.500-1.100 2.500-2.500V5.200L7.800 .8z"/><path d="M7.800 .8v2.900c0 .8.700 1.500 1.500 1.500h2.900M3.800 8.300h2M3.800 10.600h5.400M3.800 12.800h5.400"/></svg><span>BusinessC...</span><svg class="x" viewBox="0 0 8 8" fill="none" stroke="#64738f" stroke-width="1.250" stroke-linecap="round"><path d="M.7 .7l6.600 6.600M7.300 .7.700 7.300"/></svg></div><div class="chip" style="left:1199px"><svg class="f" viewBox="0 0 13 16" fill="none" stroke="#64738f" stroke-width="1.250" stroke-linecap="round" stroke-linejoin="round"><path d="M7.800 .8H3.300C1.900 .8 .8 1.900 .8 3.300v9.400c0 1.400 1.100 2.500 2.500 2.500h6.400c1.400 0 2.500-1.100 2.500-2.500V5.200L7.800 .8z"/><path d="M7.800 .8v2.900c0 .8.700 1.500 1.500 1.500h2.900M3.800 8.300h2M3.800 10.600h5.400M3.800 12.800h5.400"/></svg><span>FlyerDesig...</span><svg class="x" viewBox="0 0 8 8" fill="none" stroke="#64738f" stroke-width="1.250" stroke-linecap="round"><path d="M.7 .7l6.600 6.600M7.300 .7.700 7.300"/></svg></div></div>
<div class="row" style="top:568.94px"><div class="cb" style="top:13.500px"></div><div class="c" style="left:51.800px">47203984204002</div><div class="c t" style="left:301px">Aliquam feugiat enim vestibulum lect...</div><div class="c" style="left:551.300px">8</div><div class="c" style="left:690.300px">400</div><div class="date" style="width:83.7px;letter-spacing:-0.30px">12.08.2025</div><div class="chip" style="left:1080px"><svg class="f" viewBox="0 0 13 16" fill="none" stroke="#64738f" stroke-width="1.250" stroke-linecap="round" stroke-linejoin="round"><path d="M7.800 .8H3.300C1.900 .8 .8 1.900 .8 3.300v9.400c0 1.400 1.100 2.500 2.500 2.500h6.400c1.400 0 2.500-1.100 2.500-2.500V5.200L7.800 .8z"/><path d="M7.800 .8v2.900c0 .8.700 1.500 1.500 1.500h2.900M3.800 8.300h2M3.800 10.600h5.400M3.800 12.800h5.400"/></svg><span>WebsiteMo...</span><svg class="x" viewBox="0 0 8 8" fill="none" stroke="#64738f" stroke-width="1.250" stroke-linecap="round"><path d="M.7 .7l6.600 6.600M7.300 .7.700 7.300"/></svg></div><div class="chip" style="left:1199px"><svg class="f" viewBox="0 0 13 16" fill="none" stroke="#64738f" stroke-width="1.250" stroke-linecap="round" stroke-linejoin="round"><path d="M7.800 .8H3.300C1.900 .8 .8 1.900 .8 3.300v9.400c0 1.400 1.100 2.500 2.500 2.500h6.400c1.400 0 2.500-1.100 2.500-2.500V5.200L7.800 .8z"/><path d="M7.800 .8v2.900c0 .8.700 1.500 1.500 1.500h2.900M3.800 8.300h2M3.800 10.600h5.400M3.800 12.800h5.400"/></svg><span>AppDesign...</span><svg class="x" viewBox="0 0 8 8" fill="none" stroke="#64738f" stroke-width="1.250" stroke-linecap="round"><path d="M.7 .7l6.600 6.600M7.300 .7.700 7.300"/></svg></div></div>
<div class="row" style="top:613.56px"><div class="cb" style="top:13.500px"></div><div class="c" style="left:51.800px">47203984204002</div><div class="c t" style="left:301px">Nunc turpis mauris ultricies sit aliqua...</div><div class="c" style="left:551.300px">2</div><div class="c" style="left:690.300px">691</div><div class="date" style="width:86.2px;letter-spacing:-0.05px">28.08.2025</div><div class="chip" style="left:1080px"><svg class="f" viewBox="0 0 13 16" fill="none" stroke="#64738f" stroke-width="1.250" stroke-linecap="round" stroke-linejoin="round"><path d="M7.800 .8H3.300C1.900 .8 .8 1.900 .8 3.300v9.400c0 1.400 1.100 2.500 2.500 2.500h6.400c1.400 0 2.500-1.100 2.500-2.500V5.200L7.800 .8z"/><path d="M7.800 .8v2.900c0 .8.700 1.500 1.500 1.500h2.900M3.800 8.300h2M3.800 10.600h5.400M3.800 12.800h5.400"/></svg><span>Poster.psd</span><svg class="x" viewBox="0 0 8 8" fill="none" stroke="#64738f" stroke-width="1.250" stroke-linecap="round"><path d="M.7 .7l6.600 6.600M7.300 .7.700 7.300"/></svg></div><div class="chip" style="left:1199px"><svg class="f" viewBox="0 0 13 16" fill="none" stroke="#64738f" stroke-width="1.250" stroke-linecap="round" stroke-linejoin="round"><path d="M7.800 .8H3.300C1.900 .8 .8 1.900 .8 3.300v9.400c0 1.400 1.100 2.500 2.500 2.500h6.400c1.400 0 2.500-1.100 2.500-2.500V5.200L7.800 .8z"/><path d="M7.800 .8v2.900c0 .8.700 1.500 1.500 1.500h2.900M3.800 8.300h2M3.800 10.600h5.400M3.800 12.800h5.400"/></svg><span>Newsletter...</span><svg class="x" viewBox="0 0 8 8" fill="none" stroke="#64738f" stroke-width="1.250" stroke-linecap="round"><path d="M.7 .7l6.600 6.600M7.300 .7.700 7.300"/></svg></div></div>
<div class="row" style="top:658.18px"><div class="cb" style="top:13.500px"></div><div class="c" style="left:51.800px">47203984204002</div><div class="c t" style="left:301px">Lacus est morbi ullamcorper et id id t...</div><div class="c" style="left:551.300px">2</div><div class="c" style="left:690.300px">258</div><div class="date" style="width:86.2px;letter-spacing:-0.05px">09.09.2025</div><div class="chip" style="left:1080px"><svg class="f" viewBox="0 0 13 16" fill="none" stroke="#64738f" stroke-width="1.250" stroke-linecap="round" stroke-linejoin="round"><path d="M7.800 .8H3.300C1.900 .8 .8 1.900 .8 3.300v9.400c0 1.400 1.100 2.500 2.500 2.500h6.400c1.400 0 2.500-1.100 2.500-2.500V5.200L7.800 .8z"/><path d="M7.800 .8v2.900c0 .8.700 1.500 1.500 1.500h2.900M3.800 8.300h2M3.800 10.600h5.400M3.800 12.800h5.400"/></svg><span>ReportCov...</span><svg class="x" viewBox="0 0 8 8" fill="none" stroke="#64738f" stroke-width="1.250" stroke-linecap="round"><path d="M.7 .7l6.600 6.600M7.300 .7.700 7.300"/></svg></div></div>
<div class="row" style="top:702.80px"><div class="cb" style="top:13.500px"></div><div class="c" style="left:51.800px">47203984204002</div><div class="abs" style="left:411px;top:21.700px;width:11px;height:1.200px;background:#7d879c"></div><div class="c" style="left:551.300px">1</div><div class="c" style="left:690.300px">328</div><div class="date" style="width:83.7px;letter-spacing:-0.30px">18.09.2025</div><div class="chip" style="left:1080px"><svg class="f" viewBox="0 0 13 16" fill="none" stroke="#64738f" stroke-width="1.250" stroke-linecap="round" stroke-linejoin="round"><path d="M7.800 .8H3.300C1.900 .8 .8 1.900 .8 3.300v9.400c0 1.400 1.100 2.500 2.500 2.500h6.400c1.400 0 2.500-1.100 2.500-2.500V5.200L7.800 .8z"/><path d="M7.800 .8v2.900c0 .8.700 1.500 1.500 1.500h2.900M3.800 8.300h2M3.800 10.600h5.400M3.800 12.800h5.400"/></svg><span>EventPost...</span><svg class="x" viewBox="0 0 8 8" fill="none" stroke="#64738f" stroke-width="1.250" stroke-linecap="round"><path d="M.7 .7l6.600 6.600M7.300 .7.700 7.300"/></svg></div><div class="chip" style="left:1199px"><svg class="f" viewBox="0 0 13 16" fill="none" stroke="#64738f" stroke-width="1.250" stroke-linecap="round" stroke-linejoin="round"><path d="M7.800 .8H3.300C1.900 .8 .8 1.900 .8 3.300v9.400c0 1.400 1.100 2.500 2.500 2.500h6.400c1.400 0 2.500-1.100 2.500-2.500V5.200L7.800 .8z"/><path d="M7.800 .8v2.900c0 .8.700 1.500 1.500 1.500h2.900M3.800 8.300h2M3.800 10.600h5.400M3.800 12.800h5.400"/></svg><span>ProductLa...</span><svg class="x" viewBox="0 0 8 8" fill="none" stroke="#64738f" stroke-width="1.250" stroke-linecap="round"><path d="M.7 .7l6.600 6.600M7.300 .7.700 7.300"/></svg></div></div>
<div class="abs" style="left:41.400px;top:0;width:1px;height:742px;background:rgba(120,135,165,.07)"></div>
<div class="abs" style="left:1468px;top:0;width:42px;height:33.500px;background:#e5094c;border-radius:0 17px 17px 0"></div>
<svg class="abs" style="left:1480.500px;top:9.500px;width:14.500px;height:14.500px" viewBox="0 0 15 15" fill="none" stroke="#fff" stroke-width="1.400" stroke-linejoin="round"><rect x="1" y="1" width="13" height="13" rx="2"/><path d="M5.300 1v13M9.700 1v13"/></svg>
</div>
<div class="abs" style="left:16px;top:835px;width:61.500px;height:32.500px;border-radius:17px;background:#fff;border:1px solid #e3e6ec"></div>
<div class="abs" style="left:28px;top:843px;font-size:13.600px;line-height:16px;font-weight:700;color:#414d66">20</div>
<svg class="" style="position:absolute;left:55px;top:846px;width:11px;height:11px" viewBox="0 0 24 24" fill="none" stroke="#8791a7" stroke-width="2.200" stroke-linecap="round" stroke-linejoin="round"><path d="M4.500 8.500 12 16l7.500-7.500"/></svg>
<div class="abs" style="left:87px;top:843px;font-size:13.400px;line-height:16px;color:#5d6a83;white-space:nowrap;letter-spacing:-.2px">Toplam kayıt: <b style="color:#414d66;letter-spacing:0">456</b></div>
<div class="abs" style="left:1297px;top:835px;width:228px;height:33px;border-radius:17px;background:#fff;border:1px solid #e3e6ec">
<div class="abs" style="left:59px;top:3.500px;width:24px;height:24px;border-radius:50%;background:#98a4bd"></div>
<div class="pg" style="left:31.0px;">1</div><div class="pg" style="left:59.0px;color:#fff;font-weight:700">2</div><div class="pg" style="left:87.0px;">3</div><div class="pg" style="left:115.0px;">4</div><div class="pg" style="left:142.5px;color:#8791a7">...</div><div class="pg" style="left:170.7px;">12</div>
<svg class="abs" style="left:11.500px;top:10px;width:7px;height:11px" viewBox="0 0 7 11" fill="none" stroke="#98a4bd" stroke-width="1.500" stroke-linecap="round" stroke-linejoin="round"><path d="M5.800 1 1.200 5.500 5.800 10"/></svg><svg class="abs" style="left:206.500px;top:10px;width:7px;height:11px" viewBox="0 0 7 11" fill="none" stroke="#98a4bd" stroke-width="1.500" stroke-linecap="round" stroke-linejoin="round"><path d="M1.200 1 5.800 5.500 1.200 10"/></svg>
</div>
</div>
</div>
</body></html>
